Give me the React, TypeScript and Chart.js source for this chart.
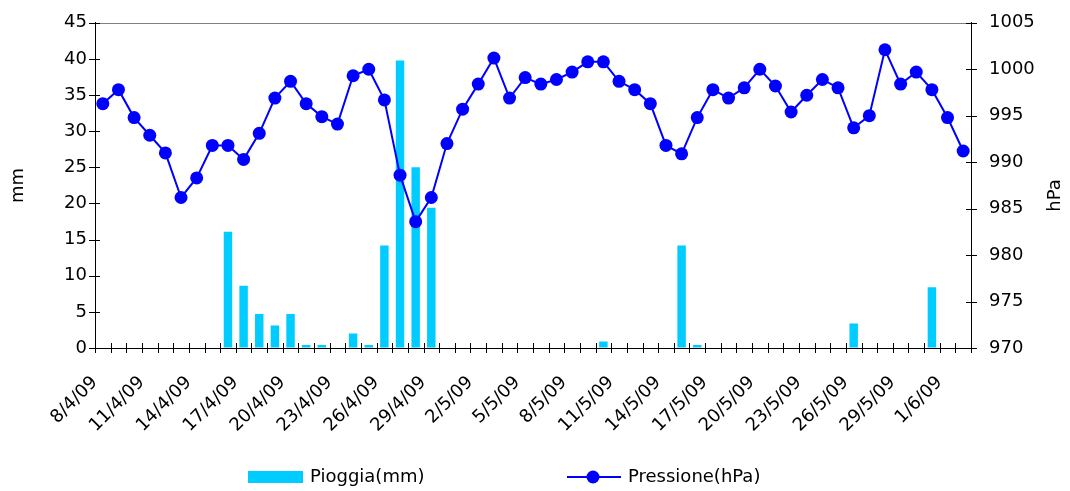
import { useEffect, useRef } from 'react';
import { Chart, registerables } from 'chart.js';

Chart.register(...registerables);

const categories = [
  '8/4/09', '9/4/09', '10/4/09', '11/4/09', '12/4/09', '13/4/09', '14/4/09', '15/4/09',
  '16/4/09', '17/4/09', '18/4/09', '19/4/09', '20/4/09', '21/4/09', '22/4/09', '23/4/09',
  '24/4/09', '25/4/09', '26/4/09', '27/4/09', '28/4/09', '29/4/09', '30/4/09', '1/5/09',
  '2/5/09', '3/5/09', '4/5/09', '5/5/09', '6/5/09', '7/5/09', '8/5/09', '9/5/09',
  '10/5/09', '11/5/09', '12/5/09', '13/5/09', '14/5/09', '15/5/09', '16/5/09', '17/5/09',
  '18/5/09', '19/5/09', '20/5/09', '21/5/09', '22/5/09', '23/5/09', '24/5/09', '25/5/09',
  '26/5/09', '27/5/09', '28/5/09', '29/5/09', '30/5/09', '31/5/09', '1/6/09', '2/6/09',
];

const rain = [
  0, 0, 0, 0, 0, 0, 0, 0,
  16.1, 8.6, 4.7, 3.1, 4.7, 0.4, 0.4, 0,
  2.0, 0.4, 14.2, 39.8, 25.0, 19.4, 0, 0,
  0, 0, 0, 0, 0, 0, 0, 0,
  0.9, 0, 0, 0, 0, 14.2, 0.4, 0,
  0, 0, 0, 0, 0, 0, 0, 0,
  3.4, 0, 0, 0, 0, 8.4, 0, 0,
];

const pressure = [
  996.3, 997.8, 994.8, 992.9, 991.0, 986.2, 988.3, 991.8,
  991.8, 990.3, 993.1, 996.9, 998.7, 996.3, 994.9, 994.1,
  999.3, 1000.0, 996.7, 988.6, 983.6, 986.2, 992.0, 995.7,
  998.4, 1001.2, 996.9, 999.1, 998.4, 998.9, 999.7, 1000.8,
  1000.8, 998.7, 997.8, 996.3, 991.8, 990.9, 994.8, 997.8,
  996.9, 998.0, 1000.0, 998.2, 995.4, 997.2, 998.9, 998.0,
  993.7, 995.0, 1002.1, 998.4, 999.7, 997.8, 994.8, 991.2,
];

const rainLabel = 'Pioggia(mm)';
const pressureLabel = 'Pressione(hPa)';
const leftTitle = 'mm';
const rightTitle = 'hPa';

const FONT = "'DejaVu Sans', sans-serif";
const FONT_SIZE = 18;
const BAR_COLOR = '#00CCFF';
const LINE_COLOR = '#0000FF';

const decorPlugin = {
  id: 'decor',
  afterDraw(chart: any) {
    const ctx = chart.ctx as CanvasRenderingContext2D;
    const { left, right, top, bottom } = chart.chartArea;
    const xs = chart.scales.x;
    const yL = chart.scales.y;
    const yR = chart.scales.y1;
    ctx.save();
    // top frame line
    ctx.strokeStyle = '#808080';
    ctx.lineWidth = 1;
    ctx.beginPath();
    ctx.moveTo(left, Math.round(top) + 0.5);
    ctx.lineTo(right, Math.round(top) + 0.5);
    ctx.stroke();

    // cross tick marks
    ctx.strokeStyle = '#000000';
    ctx.beginPath();
    for (let i = 0; i <= categories.length; i++) {
      const px = Math.round(xs.getPixelForValue(i - 0.5)) + 0.5;
      ctx.moveTo(px, bottom - 5);
      ctx.lineTo(px, bottom + 5);
    }
    yL.ticks.forEach((t: any) => {
      const py = Math.round(yL.getPixelForValue(t.value)) + 0.5;
      ctx.moveTo(left - 6, py);
      ctx.lineTo(left + 5, py);
    });
    yR.ticks.forEach((t: any) => {
      const py = Math.round(yR.getPixelForValue(t.value)) + 0.5;
      ctx.moveTo(right - 5, py);
      ctx.lineTo(right + 6, py);
    });
    ctx.stroke();

    // axis titles
    ctx.fillStyle = '#000000';
    ctx.font = `${FONT_SIZE}px ${FONT}`;
    ctx.textAlign = 'center';
    ctx.textBaseline = 'middle';
    const midY = (top + bottom) / 2;
    ctx.save();
    ctx.translate(18, midY);
    ctx.rotate(-Math.PI / 2);
    ctx.fillText(leftTitle, 0, 0);
    ctx.restore();
    ctx.save();
    ctx.translate(chart.width - 15, midY + 10);
    ctx.rotate(-Math.PI / 2);
    ctx.fillText(rightTitle, 0, 0);
    ctx.restore();

    // legend
    const ly = 477;
    ctx.fillStyle = BAR_COLOR;
    ctx.fillRect(248, 471, 55, 12);
    ctx.fillStyle = '#000000';
    ctx.textAlign = 'left';
    ctx.fillText(rainLabel, 310, ly);
    ctx.strokeStyle = LINE_COLOR;
    ctx.lineWidth = 2;
    ctx.beginPath();
    ctx.moveTo(567, ly);
    ctx.lineTo(621, ly);
    ctx.stroke();
    ctx.fillStyle = LINE_COLOR;
    ctx.beginPath();
    ctx.arc(593, ly, 6.5, 0, Math.PI * 2);
    ctx.fill();
    ctx.fillStyle = '#000000';
    ctx.fillText(pressureLabel, 628, ly);
    ctx.restore();
  },
};

export default function App() {
  const ref = useRef<HTMLCanvasElement>(null);
  useEffect(() => {
    if (!ref.current) return;
    const chart = new Chart(ref.current, {
      type: 'bar',
      data: {
        labels: categories,
        datasets: [
          {
            type: 'line',
            label: pressureLabel,
            data: pressure,
            yAxisID: 'y1',
            borderColor: LINE_COLOR,
            backgroundColor: LINE_COLOR,
            borderWidth: 2,
            pointRadius: 6.5,
            pointBorderWidth: 0,
            pointBackgroundColor: LINE_COLOR,
            tension: 0,
            order: 0,
          } as any,
          {
            type: 'bar',
            label: rainLabel,
            data: rain,
            yAxisID: 'y',
            backgroundColor: BAR_COLOR,
            borderWidth: 0,
            barPercentage: 0.54,
            categoryPercentage: 1,
            order: 1,
          },
        ],
      },
      options: {
        responsive: false,
        animation: false,
        layout: { padding: { top: 22, left: 0, right: 0, bottom: 0 } },
        plugins: {
          legend: { display: false },
          tooltip: { enabled: false },
        },
        scales: {
          x: {
            offset: true,
            grid: { display: true, offset: true, drawOnChartArea: false, drawTicks: true, tickLength: 6, color: 'rgba(0,0,0,0)' },
            border: { display: true, color: '#000000', width: 1 },
            ticks: {
              autoSkip: false,
              maxRotation: 45,
              minRotation: 45,
              padding: 18,
              labelOffset: -8,
              color: '#000000',
              font: { family: FONT, size: FONT_SIZE },
              callback: (_v: any, i: number) => (i % 3 === 0 ? categories[i] : ''),
            },
            afterFit: (s: any) => { s.height = 143; },
          },
          y: {
            position: 'left',
            min: 0,
            max: 45,
            grid: { display: true, drawOnChartArea: false, drawTicks: true, tickLength: 6, color: 'rgba(0,0,0,0)' },
            border: { display: true, color: '#000000', width: 1 },
            ticks: { stepSize: 5, padding: 2, color: '#000000', font: { family: FONT, size: FONT_SIZE } },
            afterFit: (s: any) => { s.width = 95; },
          },
          y1: {
            position: 'right',
            min: 970,
            max: 1005,
            grid: { display: true, drawOnChartArea: false, drawTicks: true, tickLength: 6, color: 'rgba(0,0,0,0)' },
            border: { display: true, color: '#000000', width: 1 },
            ticks: {
              stepSize: 5,
              padding: 12,
              color: '#000000',
              font: { family: FONT, size: FONT_SIZE },
              callback: (v: any) => String(v),
            },
            afterFit: (s: any) => { s.width = 99; },
          },
        },
      },
      plugins: [decorPlugin],
    });
    return () => chart.destroy();
  }, []);
  return (
    <div style={{ position: 'absolute', left: 0, top: 0, width: 1070, height: 491, background: '#ffffff' }}>
      <canvas ref={ref} width={1070} height={491} style={{ display: 'block' }} />
    </div>
  );
}
